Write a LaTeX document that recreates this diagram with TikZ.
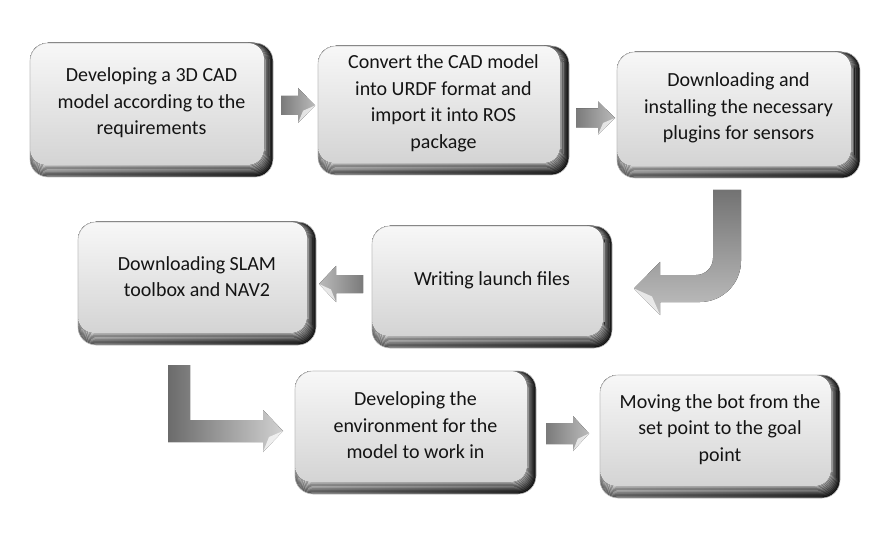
\documentclass[tikz,border=0pt]{standalone}
\usepackage{fontspec}
\setmainfont{Carlito}
\usetikzlibrary{calc}
% straight block arrow: #1 style, #2 tail, #3 tip, #4 half shaft, #5 half head, #6 signed head length
\newcommand\blkarrow[6]{%
  \fill[#1] let \p1=(#2), \p2=(#3) in
    ({\x1},{\y1+#4}) -- ({\x2-(#6)},{\y1+#4}) -- ({\x2-(#6)},{\y1+#5}) -- ({\x2},{\y1})
    -- ({\x2-(#6)},{\y1-#5}) -- ({\x2-(#6)},{\y1-#4}) -- ({\x1},{\y1-#4}) -- cycle;
  \fill[white,opacity=.7] let \p1=(#2), \p2=(#3) in
    ({\x2},{\y1}) -- ({\x2-0.7*(#6)},{\y1-0.3*#5}) -- ({\x2-(#6)},{\y1-#5}) -- cycle;
}
\begin{document}
\begin{tikzpicture}[x=1bp,y=-1bp,
  box/.style={anchor=north west, inner sep=0pt, outer sep=0pt, rounded corners=18bp,
    left color=black!55, right color=black!95,
    path picture={
      \foreach \i [evaluate=\i as \dx using \i*0.9,
                   evaluate=\i as \dy using \i*1.2,
                   evaluate=\i as \lc using 55-3.6*\i,
                   evaluate=\i as \rc using 95-6.6*\i] in {1,...,9}{
        \fill[left color=black!\lc, right color=black!\rc, rounded corners=17bp]
          (path picture bounding box.north west) rectangle ([xshift=-\dx bp,yshift=\dy bp]path picture bounding box.south east);
      }
      \fill[top color=black!3, bottom color=black!17, rounded corners=16bp]
        (path picture bounding box.north west) rectangle ([xshift=-9bp,yshift=12bp]path picture bounding box.south east);
    },
    postaction={draw=black!25, line width=0.6bp}},
  txt/.style={align=center, text=black!92, inner sep=0pt,
    font=\fontsize{20bp}{26.5bp}\selectfont},
  arr/.style={left color=black!52, right color=black!27},
  arrl/.style={left color=black!27, right color=black!52},
]
\useasboundingbox[fill=white] (0,0) rectangle (872,538);

% boxes
\node[box, minimum width=243bp, minimum height=134bp] (b1) at (30,43) {};
\node[box, minimum width=251bp, minimum height=129bp] (b2) at (318,46) {};
\node[box, minimum width=243bp, minimum height=126bp] (b3) at (617,52) {};
\node[box, minimum width=240bp, minimum height=122bp] (b4) at (372,226) {};
\node[box, minimum width=238bp, minimum height=123bp] (b5) at (78,222) {};
\node[box, minimum width=241bp, minimum height=123bp] (b6) at (295,371) {};
\node[box, minimum width=240bp, minimum height=123bp] (b7) at (600,375) {};

% texts
\node[txt] (t1) at ([yshift=7bp]b1.center) {Developing a 3D CAD\\model according to the\\requirements};
\node[txt] (t2) at ([yshift=7bp]b2.center) {Convert the CAD model\\into URDF format and\\import it into ROS\\package};
\node[txt] (t3) at ([yshift=7bp]b3.center) {Downloading and\\installing the necessary\\plugins for sensors};
\node[txt] (t4) at ([yshift=7bp]b4.center) {Writing launch files};
\node[txt] (t5) at ([yshift=7bp]b5.center) {Downloading SLAM\\toolbox and NAV2};
\node[txt] (t6) at ([yshift=7bp]b6.center) {Developing the\\environment for the\\model to work in};
\node[txt] (t7) at ([yshift=7bp]b7.center) {Moving the bot from the\\set point to the goal\\point};

% straight arrows
\coordinate (a1s) at ($(b1.east)+(8,-4.5)$);
\coordinate (a1e) at ($(b2.west)+(-3,0)$);
\blkarrow{arr}{a1s}{a1e}{9.5bp}{17.5bp}{17bp}
\coordinate (a2s) at ($(b2.east)+(7,7.5)$);
\coordinate (a2e) at ($(b3.west)+(-2,0)$);
\blkarrow{arr}{a2s}{a2e}{9.5bp}{16.5bp}{17bp}
\coordinate (a4s) at ($(b4.west)+(-9,-3)$);
\coordinate (a4e) at ($(b5.east)+(3,0)$);
\blkarrow{arrl}{a4s}{a4e}{9bp}{18bp}{-17bp}
\coordinate (a6s) at ($(b6.east)+(10,1)$);
\coordinate (a6e) at ($(b7.west)+(-11,0)$);
\blkarrow{arr}{a6s}{a6e}{10.5bp}{17.5bp}{16bp}

% bent arrow from b3 down to b4
\coordinate (j1) at ($(b3.south)+(-11.5,12)$);
\coordinate (j2) at ($(b4.east)+(22,1.5)$);
\fill[top color=black!55, bottom color=black!25] let \p1=(j1), \p2=(j2) in
  ({\x1-14bp},{\y1}) -- ({\x1-14bp},{\y2+30.5bp})
  .. controls ({\x1-14bp},{\y2+21.1bp}) and ({\x1-21.4bp},{\y2+13.5bp}) .. ({\x1-31bp},{\y2+13.5bp})
  -- ({\x2+26bp},{\y2+13.5bp}) -- ({\x2+26bp},{\y2+26.5bp}) -- ({\x2},{\y2})
  -- ({\x2+26bp},{\y2-26.5bp}) -- ({\x2+26bp},{\y2-13.5bp}) -- ({\x1-27bp},{\y2-13.5bp})
  .. controls ({\x1-4.4bp},{\y2-13.5bp}) and ({\x1+14bp},{\y2+4.9bp}) .. ({\x1+14bp},{\y2+27.5bp})
  -- ({\x1+14bp},{\y1}) -- cycle;
\fill[white,opacity=.7] let \p2=(j2) in
  ({\x2},{\y2}) -- ({\x2+18bp},{\y2-8bp}) -- ({\x2+26bp},{\y2-26.5bp}) -- cycle;

% L arrow from b5 down to b6
\coordinate (l1) at ($(b5.south)+(-18,20)$);
\coordinate (l2) at ($(b6.west)+(-12,-1.5)$);
\fill[left color=black!58, right color=black!18] let \p1=(l1), \p2=(l2) in
  ({\x1-11bp},{\y1}) -- ({\x1-11bp},{\y2-11bp}) -- ({\x2-20bp},{\y2-11bp}) -- ({\x2-20bp},{\y2-21bp})
  -- ({\x2},{\y2}) -- ({\x2-20bp},{\y2+21bp}) -- ({\x2-20bp},{\y2+11bp}) -- ({\x1+11bp},{\y2+11bp})
  -- ({\x1+11bp},{\y1}) -- cycle;
\fill[white,opacity=.7] let \p2=(l2) in
  ({\x2},{\y2}) -- ({\x2-14bp},{\y2-6bp}) -- ({\x2-20bp},{\y2-21bp}) -- cycle;
\end{tikzpicture}
\end{document}
